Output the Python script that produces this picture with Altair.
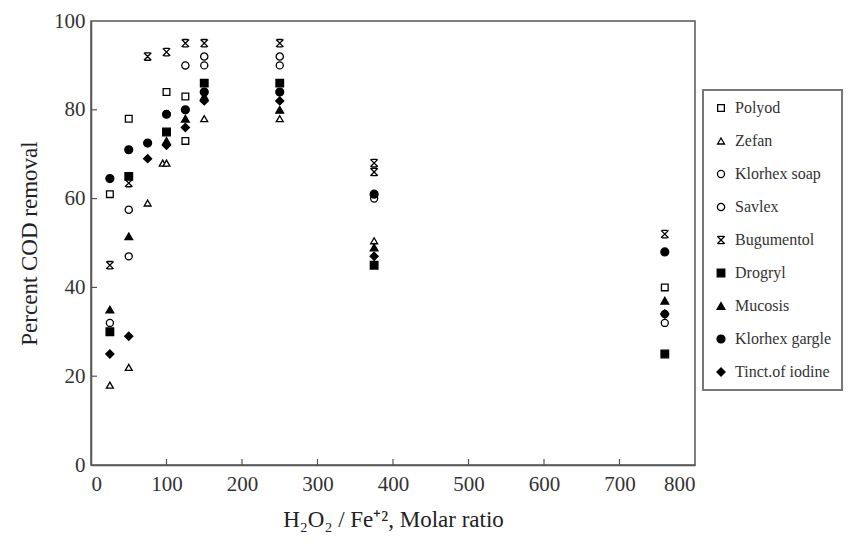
import altair as alt
import pandas as pd

series_names = ["Polyod", "Zefan", "Klorhex soap", "Savlex", "Bugumentol",
                "Drogryl", "Mucosis", "Klorhex gargle", "Tinct.of iodine"]

polyod_x = [25, 50, 100, 125, 125, 760]
polyod_y = [61, 78, 84, 83, 73, 40]
zefan_x = [25, 50, 75, 95, 100, 150, 250, 375]
zefan_y = [18, 22, 59, 68, 68, 78, 78, 50.5]
ksoap_x = [25, 50, 150, 250, 375, 760]
ksoap_y = [32, 47, 90, 90, 60, 32]
savlex_x = [50, 125, 150, 250, 760]
savlex_y = [57.5, 90, 92, 92, 34]
bugu_x = [25, 50, 75, 100, 125, 150, 250, 375, 375, 760]
bugu_y = [45, 63.5, 92, 93, 95, 95, 95, 68, 66, 52]
drog_x = [25, 50, 100, 150, 250, 375, 760]
drog_y = [30, 65, 75, 86, 86, 45, 25]
muco_x = [25, 50, 100, 125, 150, 250, 375, 760]
muco_y = [35, 51.5, 73, 78, 83, 80, 49, 37]
kgarg_x = [25, 50, 75, 100, 125, 150, 250, 375, 760]
kgarg_y = [64.5, 71, 72.5, 79, 80, 84, 84, 61, 48]
tinct_x = [25, 50, 75, 100, 125, 150, 250, 375, 760]
tinct_y = [25, 29, 69, 72, 76, 82, 82, 47, 34]

xs = [polyod_x, zefan_x, ksoap_x, savlex_x, bugu_x, drog_x, muco_x, kgarg_x, tinct_x]
ys = [polyod_y, zefan_y, ksoap_y, savlex_y, bugu_y, drog_y, muco_y, kgarg_y, tinct_y]

rows = []
for name, xl, yl in zip(series_names, xs, ys):
    for a, b in zip(xl, yl):
        rows.append({"ratio": a, "cod": b, "series": name})
df = pd.DataFrame(rows)

x_ticks = [0, 100, 200, 300, 400, 500, 600, 700, 800]
y_ticks = [0, 20, 40, 60, 80, 100]

bowtie = "M-1,-1L1,1M1,-1L-1,1M-0.75,-1L0.75,-1M-0.75,1L0.75,1"
shapes = ["square", "triangle-up", "circle", "circle", bowtie,
          "square", "triangle-up", "circle", "diamond"]
fills = ["white", "white", "white", "white", "white",
         "black", "black", "black", "black"]
sizes = [45, 65, 65, 30, 60, 50, 60, 90, 75]

W, H = 604, 444
FONT = "Liberation Serif"

xscale = alt.Scale(domain=[0, 800], nice=False)
yscale = alt.Scale(domain=[0, 100], nice=False)

leg = alt.Legend(title=None, orient="none", legendX=612, legendY=69,
                 labelFontSize=16, labelFont=FONT, labelColor="#333",
                 strokeColor="#777", padding=10, rowPadding=17, labelOffset=6,
                 symbolStrokeWidth=1.3, labelLimit=115)

points = alt.Chart(df).mark_point(filled=False, color="black", strokeWidth=1.3, opacity=1).encode(
    x=alt.X("ratio:Q", scale=xscale,
            axis=alt.Axis(values=x_ticks, ticks=False, title="H₂O₂ / Fe⁺², Molar ratio",
                          labelFontSize=21, titleFontSize=23, labelPadding=8,
                          titlePadding=14, grid=False)),
    y=alt.Y("cod:Q", scale=yscale,
            axis=alt.Axis(values=y_ticks, ticks=False, title="Percent COD removal",
                          labelFontSize=21, titleFontSize=23, labelPadding=6,
                          titlePadding=12, grid=False)),
    shape=alt.Shape("series:N", scale=alt.Scale(domain=series_names, range=shapes), legend=leg),
    fill=alt.Fill("series:N", scale=alt.Scale(domain=series_names, range=fills), legend=leg),
    size=alt.Size("series:N", scale=alt.Scale(domain=series_names, range=sizes), legend=leg),
)

xt = pd.DataFrame({"t": x_ticks[1:-1]})
yt = pd.DataFrame({"t": y_ticks[1:-1]})
xtick_layer = alt.Chart(xt).mark_rule(color="#555", strokeWidth=1.2).encode(
    x=alt.X("t:Q", scale=xscale), y=alt.value(H), y2=alt.value(H - 6))
ytick_layer = alt.Chart(yt).mark_rule(color="#555", strokeWidth=1.2).encode(
    y=alt.Y("t:Q", scale=yscale), x=alt.value(0), x2=alt.value(6))

chart = alt.layer(xtick_layer, ytick_layer, points).properties(
    width=W, height=H,
    autosize=alt.AutoSizeParams(type="none"),
    padding={"left": 83, "top": 13, "right": 150, "bottom": 80},
).configure_view(stroke="#555", strokeWidth=1.5).configure_axis(
    labelFont=FONT, titleFont=FONT, labelColor="#333", titleColor="#222",
    titleFontWeight="normal", domainColor="#555", domainWidth=1.5,
).configure_legend(labelFont=FONT, strokeWidth=2)

chart.save("out.html", embed_options={"renderer": "svg", "actions": False})
